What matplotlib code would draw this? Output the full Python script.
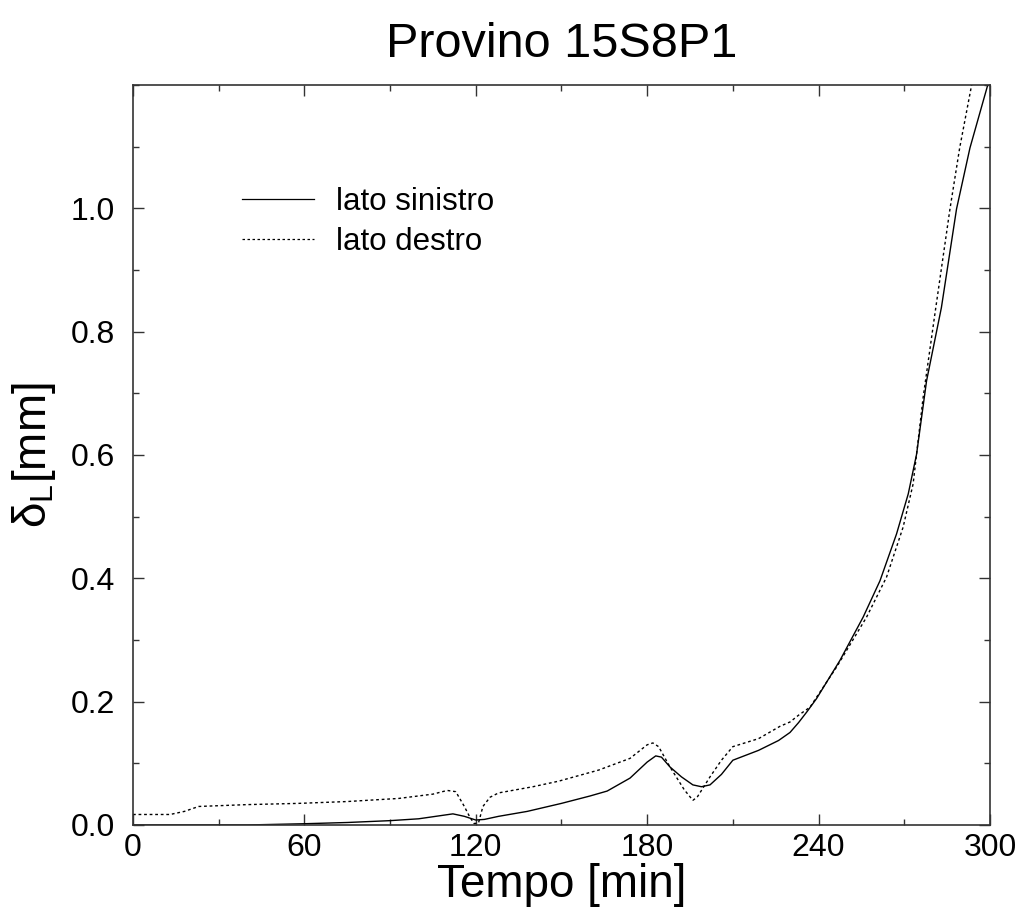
import matplotlib
matplotlib.use("Agg")
import matplotlib.pyplot as plt
from matplotlib.ticker import MultipleLocator

plt.rcParams['font.family'] = ['Liberation Sans', 'DejaVu Sans']
plt.rcParams['mathtext.fontset'] = 'custom'
plt.rcParams['mathtext.rm'] = 'Liberation Sans'
plt.rcParams['mathtext.it'] = 'Liberation Sans'

title = "Provino 15S8P1"
xlabel = "Tempo [min]"
ylabel = r"δ$_\mathrm{L}$[mm]"
labels = ["lato sinistro", "lato destro"]
xticks = [0, 60, 120, 180, 240, 300]
yticks = [0.0, 0.2, 0.4, 0.6, 0.8, 1.0]

x_sin = [0, 40, 50, 60, 75, 90, 100, 112, 116, 120, 123, 128, 138, 150, 160, 166,
         174, 180, 183, 185, 188, 192, 196, 199, 202, 206, 210, 219, 226, 230, 233,
         236, 239.3, 247.5, 255.6, 261.5, 267.3, 271.4, 274.3, 277.8, 283, 288.3,
         293, 299.1, 300]
y_sin = [0.0, 0.0, 0.001, 0.002, 0.004, 0.007, 0.010, 0.018, 0.014, 0.008, 0.009,
         0.014, 0.022, 0.035, 0.047, 0.055, 0.076, 0.102, 0.112, 0.110, 0.094, 0.078,
         0.065, 0.062, 0.065, 0.082, 0.105, 0.121, 0.137, 0.150, 0.166, 0.184, 0.205,
         0.267, 0.337, 0.396, 0.472, 0.537, 0.601, 0.720, 0.839, 0.999, 1.098, 1.198,
         1.215]

x_des = [0, 13, 18, 23, 40, 58, 75, 93, 105, 110, 113, 116, 118, 119.5, 121, 122.5,
         125, 128, 140, 149, 163, 174, 180, 182, 184, 188, 193, 196, 197.5, 202, 206,
         210, 219, 226.5, 230, 233, 237, 246.3, 256.8, 263.8, 269.6, 273.1, 276.6,
         280.7, 286, 289.4, 293.5, 296]
y_des = [0.017, 0.017, 0.022, 0.030, 0.033, 0.035, 0.038, 0.043, 0.050, 0.056, 0.054,
         0.030, 0.012, 0.002, 0.004, 0.030, 0.045, 0.052, 0.062, 0.071, 0.089, 0.108,
         0.130, 0.133, 0.127, 0.094, 0.057, 0.040, 0.045, 0.078, 0.105, 0.127, 0.140,
         0.160, 0.167, 0.178, 0.191, 0.256, 0.337, 0.402, 0.483, 0.553, 0.693, 0.828,
         0.999, 1.098, 1.198, 1.26]

fig = plt.figure(figsize=(10.19, 9.15), dpi=100)
ax = fig.add_axes([0.1305, 0.0984, 0.8410, 0.8087])

ax.plot(x_sin, y_sin, color='black', lw=1.0, label=labels[0])
ax.plot(x_des, y_des, color='black', lw=1.0, linestyle=(0, (2, 2)), label=labels[1])

ax.set_xlim(0, 300)
ax.set_ylim(0, 1.2)
ax.set_xticks(xticks)
ax.set_yticks(yticks)
ax.set_yticklabels([f"{v:.1f}" for v in yticks])
ax.xaxis.set_minor_locator(MultipleLocator(30))
ax.yaxis.set_minor_locator(MultipleLocator(0.1))
ax.tick_params(which='both', direction='in', top=True, right=True, color='#333333')
ax.tick_params(which='major', length=8, width=1.0, labelsize=23)
ax.tick_params(axis='x', which='major', pad=6)
ax.tick_params(axis='y', which='major', pad=13)
ax.tick_params(which='minor', length=4.5, width=1.0)
for s in ax.spines.values():
    s.set_linewidth(1.2)
    s.set_color('#333333')

ax.set_xlabel(xlabel, fontsize=33, labelpad=0)
ax.set_ylabel(ylabel, fontsize=33, labelpad=9)
ax.set_title(title, fontsize=35, pad=20)

leg = ax.legend(loc='upper left', bbox_to_anchor=(0.127, 0.862), frameon=False,
                fontsize=22.5, handlelength=2.3, handletextpad=0.7,
                labelspacing=0.32, borderpad=0, borderaxespad=0)
for line in leg.get_lines():
    line.set_linewidth(0.9)

fig.savefig("out.png", dpi=100)
